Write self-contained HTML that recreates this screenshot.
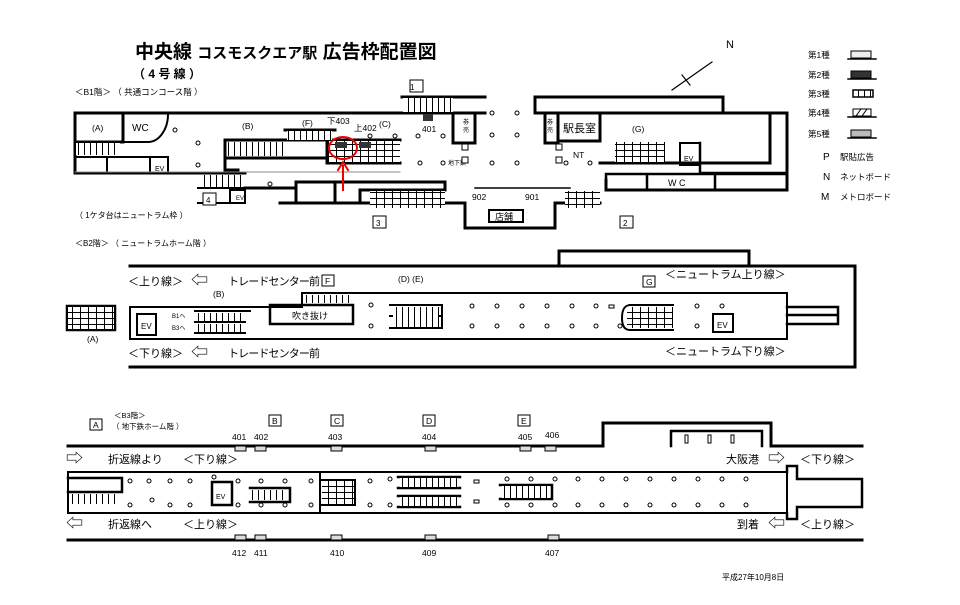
<!DOCTYPE html>
<html><head><meta charset="utf-8"><style>
html,body{margin:0;padding:0;background:#fff;width:960px;height:605px;overflow:hidden}
svg{display:block}
text{font-family:"Liberation Sans","Noto Sans CJK JP",sans-serif;fill:#000}
.ar{font-size:17px}
</style></head><body>
<svg width="960" height="605" viewBox="0 0 960 605" xmlns="http://www.w3.org/2000/svg">
<defs>
<pattern id="st" width="6" height="30" patternUnits="userSpaceOnUse"><rect width="6" height="30" fill="#fff"/><line x1="0.5" y1="0" x2="0.5" y2="30" stroke="#000" stroke-width="1"/></pattern>
<pattern id="stg" width="8" height="6" patternUnits="userSpaceOnUse"><rect width="8" height="6" fill="#fff"/><path d="M0.5 0V6M0 0.5H8" stroke="#000" stroke-width="1"/></pattern>
</defs>
<g stroke-linecap="square">
<text x="135" y="58" font-size="19" font-weight="bold">中央線 <tspan font-size="15">コスモスクエア駅</tspan> 広告枠配置図</text>
<text x="133" y="78" font-size="12" font-weight="bold">（ 4 号 線 ）</text>
<text x="75" y="95" font-size="8.5">＜B1階＞ （ 共通コンコース階 ）</text>
<line x1="672" y1="90" x2="712" y2="62" stroke="#000" stroke-width="1.2"/>
<line x1="682" y1="75" x2="690" y2="85" stroke="#000" stroke-width="1.2"/>
<text x="726" y="48" font-size="11">N</text>
<g font-size="8.5">
<text x="808" y="58">第1種</text><rect x="851" y="51" width="20" height="7" fill="#eee" stroke="#000"/><line x1="848" y1="59" x2="876" y2="59" stroke="#000" stroke-width="1.5"/>
<text x="808" y="78">第2種</text><rect x="851" y="71" width="20" height="7" fill="#333" stroke="#000"/><line x1="848" y1="79" x2="876" y2="79" stroke="#000" stroke-width="1.5"/>
<text x="808" y="97">第3種</text><rect x="853" y="90" width="20" height="7" fill="url(#st)" stroke="#000" stroke-width="1.5"/>
<text x="808" y="116">第4種</text><rect x="853" y="109" width="18" height="7" fill="#fff" stroke="#000"/><path d="M856 116L861 109M862 116L867 109" stroke="#000"/><line x1="848" y1="117" x2="876" y2="117" stroke="#000" stroke-width="1.5"/>
<text x="808" y="137">第5種</text><rect x="851" y="130" width="20" height="7" fill="#bbb" stroke="#000"/><line x1="848" y1="138" x2="876" y2="138" stroke="#000" stroke-width="1.5"/>
<text x="823" y="160" font-size="10">P</text><text x="840" y="160">駅貼広告</text>
<text x="823" y="180" font-size="10">N</text><text x="840" y="180">ネットボード</text>
<text x="821" y="200" font-size="10">M</text><text x="840" y="200">メトロボード</text>
</g>

<g fill="none" stroke="#000" stroke-width="3">
<path d="M485 113H75V173H245"/>
<path d="M402 97H485"/>
<path d="M535 113V97H723V113"/>
<path d="M535 113H787V190H606V180"/>
<path d="M123 113V142H75"/>
<path d="M123 142H148A20 28 0 0 0 168 113" stroke-width="2"/>
<path d="M75 157H168V173M107 157V173M150 157V173" stroke-width="2"/>
<path d="M225 170H238M225 140V170"/>
<path d="M225 140H290"/>
<path d="M225 158H332V140H290"/>
<path d="M285 130H335"/>
<path d="M327 140V163H400"/>
<path d="M327 140H400"/>
<path d="M245 188H296V182H445V190H360V203H296V182"/>
<path d="M335 182V203"/>
<path d="M280 203H465V228H555V203H600"/>
<path d="M489 210H523V222H489Z" stroke-width="2"/>
<path d="M453 113V143H475V113"/>
<path d="M545 113V143H558V113"/>
<path d="M558 113V141H600V113"/>
<path d="M600 141V113"/>
<path d="M600 163H770V113M770 113V163"/>
<path d="M680 143H700V165H680Z" stroke-width="2"/>
<path d="M700 143V173H787" stroke-width="2.5"/>
<path d="M606 174H787V190H606ZM647 174V190M715 174V190" stroke-width="2.5"/>
<path d="M198 188H245V203H198" stroke-width="2"/>
<path d="M230 190H245V203H230Z" stroke-width="2"/>
</g>
<rect x="76" y="143" width="44" height="12" fill="url(#st)"/>
<rect x="228" y="142" width="60" height="14" fill="url(#st)"/>
<rect x="287" y="131" width="45" height="9" fill="url(#st)"/>
<rect x="328" y="141" width="72" height="21" fill="url(#stg)"/>
<rect x="335" y="142" width="12" height="6" fill="#333"/>
<rect x="359" y="142" width="12" height="6" fill="#333"/>
<rect x="370" y="191" width="75" height="17" fill="url(#stg)"/>
<rect x="565" y="191" width="35" height="17" fill="url(#stg)"/>
<rect x="615" y="142" width="50" height="20" fill="url(#stg)"/>
<rect x="403" y="98" width="50" height="14" fill="url(#st)"/>
<rect x="199" y="175" width="44" height="12" fill="url(#st)"/>
<rect x="423" y="114" width="10" height="7" fill="#333"/>
<line x1="75" y1="172" x2="400" y2="172" stroke="#888" stroke-width="1"/>
<line x1="475" y1="188" x2="570" y2="188" stroke="#000" stroke-width="1.5" stroke-dasharray="2,1.5"/>
<g font-size="8.5">
<text x="92" y="131">(A)</text><text x="132" y="131" font-size="10">WC</text>
<text x="155" y="171" font-size="7">EV</text><text x="236" y="200" font-size="6">EV</text>
<text x="242" y="129">(B)</text><text x="302" y="126">(F)</text>
<text x="327" y="124">下403</text><text x="354" y="131">上402</text><text x="379" y="127">(C)</text>
<text x="422" y="132">401</text><text x="448" y="165" font-size="6">地下鉄</text>
<text x="463" y="124" font-size="6">券</text><text x="463" y="132" font-size="6">売</text>
<text x="547" y="124" font-size="6">券</text><text x="547" y="132" font-size="6">売</text>
<text x="563" y="132" font-size="11">駅長室</text>
<text x="632" y="132">(G)</text><text x="573" y="158">NT</text>
<text x="684" y="161" font-size="7">EV</text>
<text x="668" y="186" font-size="9">W C</text>
<text x="472" y="200">902</text><text x="525" y="200">901</text>
<text x="495" y="220" font-size="9">店舗</text>
<text x="75" y="218" font-size="8">（ 1ケタ台はニュートラム枠 ）</text>
<text x="75" y="246" font-size="8">＜B2階＞ （ ニュートラムホーム階 ）</text>
</g>
<g fill="#fff" stroke="#000" stroke-width="1">
<rect x="410" y="80" width="13" height="12"/><rect x="203" y="193" width="13" height="12"/><rect x="373" y="216" width="13" height="12"/><rect x="620" y="216" width="13" height="12"/>
<rect x="462" y="144" width="6" height="6"/><rect x="462" y="157" width="6" height="6"/><rect x="556" y="144" width="6" height="6"/><rect x="556" y="157" width="6" height="6"/>
<circle cx="175" cy="130" r="2"/><circle cx="198" cy="143" r="2"/><circle cx="198" cy="165" r="2"/><circle cx="270" cy="184" r="2"/>
<circle cx="370" cy="136" r="2"/><circle cx="395" cy="136" r="2"/><circle cx="418" cy="136" r="2"/><circle cx="443" cy="136" r="2"/>
<circle cx="420" cy="163" r="2"/><circle cx="443" cy="163" r="2"/>
<circle cx="492" cy="113" r="2"/><circle cx="517" cy="113" r="2"/><circle cx="492" cy="135" r="2"/><circle cx="517" cy="135" r="2"/><circle cx="492" cy="163" r="2"/><circle cx="517" cy="163" r="2"/>
<circle cx="566" cy="163" r="2"/><circle cx="590" cy="163" r="2"/>
</g>
<text x="410" y="90" font-size="8">1</text><text x="206" y="203" font-size="8">4</text><text x="376" y="226" font-size="8">3</text><text x="623" y="226" font-size="8">2</text>
<ellipse cx="343" cy="148" rx="14" ry="11" fill="none" stroke="#e00" stroke-width="2"/>
<line x1="343" y1="190" x2="343" y2="166" stroke="#e00" stroke-width="2"/>
<path d="M338 170L343 162L348 170" fill="none" stroke="#e00" stroke-width="2"/>

<g fill="none" stroke="#000" stroke-width="3">
<path d="M130 266H855V367H130"/>
<path d="M559 266V251H749V266"/>
<path d="M130 307H302V293H787V339H130Z" stroke-width="2"/>
<path d="M302 293V307" stroke-width="2"/>
<path d="M787 307H838V324H787M787 315H838" stroke-width="2.5"/>
<path d="M137 314H156V335H137Z" stroke-width="2"/>
<path d="M270 305H353V324H270Z" stroke-width="2.5"/>
<path d="M195 311H250M195 322H245M195 333H245" stroke-width="2"/>
<path d="M390 305H442V328H390M390 316H440" stroke-width="2"/>
<path d="M67 306H115V330H67Z" stroke-width="2.5"/>
<path d="M630 305H673M630 305Q622 305 622 318Q622 330 630 330H673" stroke-width="2"/>
<path d="M713 314H733V332H713Z" stroke-width="2"/>
</g>
<rect x="304" y="295" width="48" height="8" fill="url(#st)"/>
<rect x="198" y="313" width="48" height="8" fill="url(#st)"/>
<rect x="198" y="324" width="45" height="8" fill="url(#st)"/>
<rect x="393" y="307" width="46" height="20" fill="url(#st)"/>
<rect x="68" y="307" width="46" height="22" fill="url(#stg)"/>
<rect x="627" y="307" width="46" height="21" fill="url(#stg)"/>
<g fill="#fff" stroke="#000" stroke-width="1">
<circle cx="371" cy="305" r="2"/><circle cx="371" cy="326" r="2"/>
<circle cx="472" cy="306" r="2"/><circle cx="497" cy="306" r="2"/><circle cx="522" cy="306" r="2"/><circle cx="547" cy="306" r="2"/><circle cx="572" cy="306" r="2"/><circle cx="596" cy="306" r="2"/>
<circle cx="472" cy="326" r="2"/><circle cx="497" cy="326" r="2"/><circle cx="522" cy="326" r="2"/><circle cx="547" cy="326" r="2"/><circle cx="572" cy="326" r="2"/><circle cx="596" cy="326" r="2"/><circle cx="620" cy="326" r="2"/>
<circle cx="697" cy="306" r="2"/><circle cx="722" cy="306" r="2"/><circle cx="697" cy="326" r="2"/>
<rect x="609" y="305" width="5" height="3"/>
<rect x="322" y="275" width="12" height="11"/><rect x="643" y="276" width="12" height="11"/>
</g>
<g font-size="11">
<text x="128" y="285">＜上り線＞</text><text x="191" y="286" class="ar">⇦</text><text x="228" y="285" textLength="92">トレードセンター前</text>
<text x="128" y="357">＜下り線＞</text><text x="191" y="358" class="ar">⇦</text><text x="228" y="357" textLength="92">トレードセンター前</text>
<text x="665" y="278">＜ニュートラム上り線＞</text>
<text x="665" y="355">＜ニュートラム下り線＞</text>
<text x="292" y="319" font-size="9">吹き抜け</text>
</g>
<g font-size="8.5">
<text x="325" y="284">F</text><text x="646" y="285">G</text>
<text x="398" y="282">(D)  (E)</text><text x="213" y="297">(B)</text>
<text x="87" y="342">(A)</text>
<text x="141" y="329" font-size="8">EV</text><text x="717" y="328" font-size="8">EV</text>
<text x="172" y="318" font-size="6">B1へ</text><text x="172" y="330" font-size="6">B3へ</text>
</g>

<g fill="none" stroke="#000" stroke-width="3">
<path d="M68 446H603V423H771V446H862"/>
<path d="M671 446V431H762V446" stroke-width="2.5"/>
<path d="M68 472H787V513H68Z" stroke-width="2"/>
<path d="M787 472V466H797V479H862V507H797V519H787V513" stroke-width="2.5"/>
<path d="M68 540H862"/>
<path d="M68 478H122V492H68" stroke-width="2.5"/>
<path d="M212 482H232V505H212Z" stroke-width="2.5"/>
<path d="M250 488H290V502H250" stroke-width="2.5"/>
<path d="M320 472V513M320 480H355V505H320" stroke-width="2"/>
<path d="M398 477H460M398 488H460M398 496H460M398 507H460" stroke-width="2.5"/>
<path d="M500 485H552V499H500" stroke-width="2.5"/>
</g>
<rect x="69" y="494" width="50" height="10" fill="url(#st)"/>
<rect x="252" y="490" width="36" height="10" fill="url(#st)"/>
<rect x="322" y="481" width="32" height="23" fill="url(#stg)"/>
<rect x="400" y="478" width="58" height="9" fill="url(#st)"/>
<rect x="400" y="497" width="58" height="9" fill="url(#st)"/>
<rect x="502" y="486" width="48" height="12" fill="url(#st)"/>
<g fill="#ddd" stroke="#000" stroke-width="1">
<rect x="235" y="446" width="11" height="5"/><rect x="255" y="446" width="11" height="5"/><rect x="331" y="446" width="11" height="5"/><rect x="425" y="446" width="11" height="5"/><rect x="520" y="446" width="11" height="5"/><rect x="545" y="446" width="11" height="5"/>
<rect x="235" y="535" width="11" height="5"/><rect x="255" y="535" width="11" height="5"/><rect x="331" y="535" width="11" height="5"/><rect x="425" y="535" width="11" height="5"/><rect x="548" y="535" width="11" height="5"/>
</g>
<g fill="#fff" stroke="#000" stroke-width="1">
<rect x="90" y="419" width="12" height="11"/><rect x="269" y="415" width="12" height="11"/><rect x="331" y="415" width="12" height="11"/><rect x="423" y="415" width="12" height="11"/><rect x="518" y="415" width="12" height="11"/>
<rect x="685" y="435" width="3" height="8"/><rect x="708" y="435" width="3" height="8"/><rect x="731" y="435" width="3" height="8"/>
<rect x="474" y="480" width="5" height="3"/><rect x="474" y="500" width="5" height="3"/>
<circle cx="130" cy="481" r="2"/><circle cx="149" cy="481" r="2"/><circle cx="170" cy="481" r="2"/><circle cx="190" cy="481" r="2"/><circle cx="214" cy="477" r="2"/><circle cx="238" cy="481" r="2"/><circle cx="261" cy="481" r="2"/><circle cx="285" cy="481" r="2"/><circle cx="311" cy="481" r="2"/><circle cx="370" cy="481" r="2"/><circle cx="390" cy="479" r="2"/>
<circle cx="130" cy="505" r="2"/><circle cx="152" cy="500" r="2"/><circle cx="170" cy="505" r="2"/><circle cx="190" cy="505" r="2"/><circle cx="238" cy="505" r="2"/><circle cx="261" cy="505" r="2"/><circle cx="285" cy="505" r="2"/><circle cx="311" cy="505" r="2"/><circle cx="370" cy="505" r="2"/><circle cx="390" cy="505" r="2"/>
<circle cx="507" cy="479" r="2"/><circle cx="531" cy="479" r="2"/><circle cx="555" cy="479" r="2"/><circle cx="507" cy="505" r="2"/><circle cx="531" cy="505" r="2"/><circle cx="555" cy="505" r="2"/>
<circle cx="578" cy="479" r="2"/><circle cx="602" cy="479" r="2"/><circle cx="626" cy="479" r="2"/><circle cx="650" cy="479" r="2"/><circle cx="674" cy="479" r="2"/><circle cx="698" cy="479" r="2"/><circle cx="722" cy="479" r="2"/><circle cx="746" cy="479" r="2"/>
<circle cx="578" cy="505" r="2"/><circle cx="602" cy="505" r="2"/><circle cx="626" cy="505" r="2"/><circle cx="650" cy="505" r="2"/><circle cx="674" cy="505" r="2"/><circle cx="698" cy="505" r="2"/><circle cx="722" cy="505" r="2"/><circle cx="746" cy="505" r="2"/>
</g>
<g font-size="8.5">
<text x="93" y="428">A</text><text x="272" y="424">B</text><text x="334" y="424">C</text><text x="426" y="424">D</text><text x="521" y="424">E</text>
<text x="114" y="418" font-size="7.5">＜B3階＞</text><text x="112" y="429" font-size="7.5">（ 地下鉄ホーム階 ）</text>
<text x="232" y="440">401</text><text x="254" y="440">402</text><text x="328" y="440">403</text><text x="422" y="440">404</text><text x="518" y="440">405</text><text x="545" y="438">406</text>
<text x="232" y="556">412</text><text x="254" y="556">411</text><text x="330" y="556">410</text><text x="422" y="556">409</text><text x="545" y="556">407</text>
<text x="216" y="499" font-size="7">EV</text>
<text x="722" y="580" font-size="8">平成27年10月8日</text>
</g>
<g font-size="11">
<text x="66" y="464" class="ar">⇨</text><text x="108" y="463">折返線より</text><text x="183" y="463">＜下り線＞</text>
<text x="726" y="463">大阪港</text><text x="768" y="464" class="ar">⇨</text><text x="800" y="463">＜下り線＞</text>
<text x="66" y="529" class="ar">⇦</text><text x="108" y="528">折返線へ</text><text x="183" y="528">＜上り線＞</text>
<text x="737" y="528">到着</text><text x="768" y="529" class="ar">⇦</text><text x="800" y="528">＜上り線＞</text>
</g>
</g>
</svg>
</body></html>
